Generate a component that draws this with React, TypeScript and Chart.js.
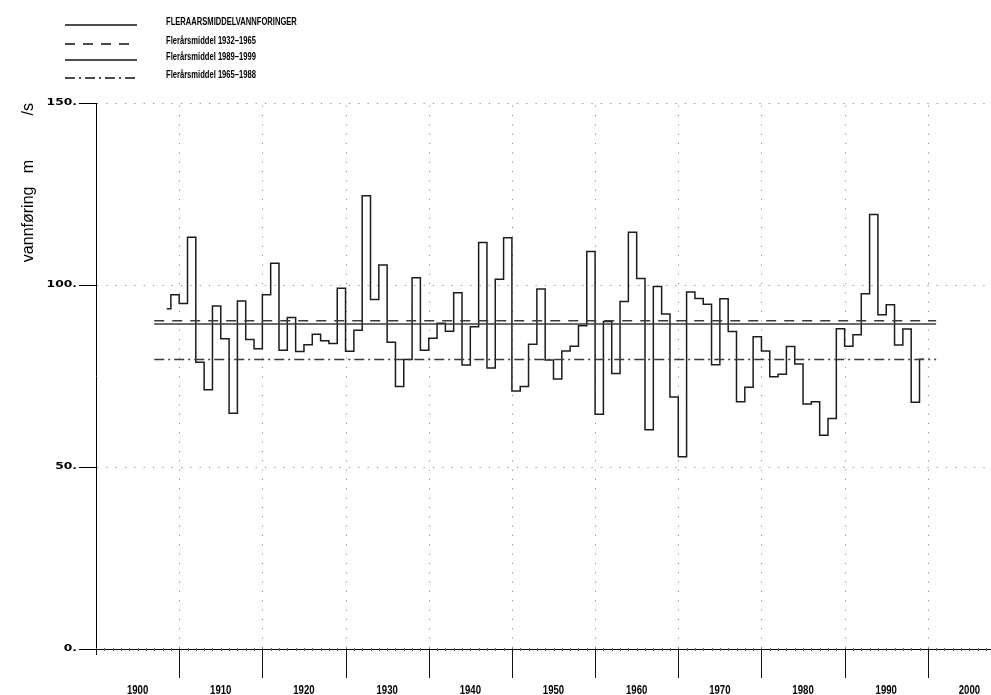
import React, { useEffect, useRef } from 'react';
import { Chart, registerables } from 'chart.js';

Chart.register(...registerables);

// ---------- data ----------
const SERIES_LABEL = 'FLERAARSMIDDELVANNFORINGER';
const START_YEAR = 1908;
const FLOW = [
  93.5, 97.3, 94.9, 113.1, 78.8, 71.2, 94.2, 85.2, 64.8, 95.6,
  85.0, 82.5, 97.3, 106.0, 82.1, 91.1, 81.7, 83.6, 86.5, 84.7,
  83.9, 99.1, 81.8, 87.6, 124.5, 96.0, 105.5, 84.3, 72.1, 79.5,
  102.0, 82.1, 85.4, 89.5, 87.3, 97.9, 78.0, 88.5, 111.7, 77.2,
  101.6, 113.0, 70.9, 72.1, 83.7, 98.9, 79.4, 74.2, 81.9, 83.2,
  88.8, 109.2, 64.5, 90.0, 75.7, 95.5, 114.5, 101.8, 60.2, 99.6,
  92.0, 69.2, 52.8, 98.1, 96.3, 94.7, 78.1, 96.2, 87.2, 67.9,
  71.9, 85.8, 81.9, 74.8, 75.5, 83.1, 78.3, 67.3, 67.9, 58.7,
  63.3, 88.0, 83.2, 86.3, 97.6, 119.4, 91.8, 94.6, 83.5, 87.9,
  67.8, 79.6,
];

const MEAN_LABELS = ['Flerårsmiddel 1932–1965', 'Flerårsmiddel 1989–1999', 'Flerårsmiddel 1965–1988'];
const MEAN_VALUES = [90.2, 89.3, 79.5];
const MEAN_FROM = 1907;
const MEAN_TO = 2001;

const DECADE_LABELS = ['1900', '1910', '1920', '1930', '1940', '1950', '1960', '1970', '1980', '1990', '2000'];
const X_MIN = 1900;
const X_MAX = 2010;
const Y_TICKS = [0, 50, 100, 150];
const Y_LABELS = ['0.', '50.', '100.', '150.'];
const Y_GRID = [50, 100, 150];
const Y_TITLE = 'vannføring   m          /s';

// ---------- styles ----------
const SANS = '"Liberation Sans", Arial, sans-serif';
const LINE_COLOR = '#1c1c1c';
const MEAN_COLOR = '#3a3a3a';
const DASHES: number[][] = [[10, 8], [], [10, 4, 2, 4]];

const decor = {
  id: 'decor',
  beforeDatasetsDraw(chart: any) {
    const { ctx, chartArea: a, scales } = chart;
    const x = scales.x;
    const y = scales.y;
    ctx.save();
    ctx.strokeStyle = '#8c8c8c';
    ctx.lineWidth = 1;
    ctx.setLineDash([1.2, 8.13]);
    for (const v of Y_GRID) {
      const py = Math.round(y.getPixelForValue(v)) + 0.5;
      ctx.beginPath();
      ctx.moveTo(a.left + 1, py);
      ctx.lineTo(a.right, py);
      ctx.stroke();
    }
    for (const l of DECADE_LABELS.slice(1)) {
      const px = Math.round(x.getPixelForValue(Number(l))) + 0.5;
      ctx.beginPath();
      ctx.moveTo(px, a.bottom - 1);
      ctx.lineTo(px, a.top);
      ctx.stroke();
    }
    ctx.restore();
  },
  afterDraw(chart: any) {
    const { ctx, chartArea: a, scales } = chart;
    const x = scales.x;
    const y = scales.y;
    ctx.save();
    ctx.setLineDash([]);
    // minor yearly ticks
    ctx.strokeStyle = '#666';
    ctx.lineWidth = 1;
    for (let yr = X_MIN; yr <= X_MAX; yr++) {
      const px = Math.round(x.getPixelForValue(yr)) + 0.5;
      ctx.beginPath();
      ctx.moveTo(px, a.bottom - 1);
      ctx.lineTo(px, a.bottom + 2);
      ctx.stroke();
    }
    // decade ticks
    ctx.strokeStyle = '#111';
    for (const l of DECADE_LABELS.slice(1)) {
      const px = Math.round(x.getPixelForValue(Number(l))) + 0.5;
      ctx.beginPath();
      ctx.moveTo(px, a.bottom);
      ctx.lineTo(px, a.bottom + 29);
      ctx.stroke();
    }
    // y axis extension below the x axis
    const lx = Math.round(a.left) + 0.5;
    ctx.beginPath();
    ctx.moveTo(lx, a.bottom);
    ctx.lineTo(lx, a.bottom + 6);
    ctx.stroke();

    // x labels (condensed bold), centred in each decade
    ctx.fillStyle = '#000';
    ctx.font = `bold 12px ${SANS}`;
    ctx.textAlign = 'center';
    ctx.textBaseline = 'alphabetic';
    x.ticks.forEach((t: any, i: number) => {
      const px = x.getPixelForValue(t.value);
      ctx.save();
      ctx.translate(px, a.bottom + 44.5);
      ctx.scale(0.8, 1);
      ctx.fillText(DECADE_LABELS[i], 0, 0);
      ctx.restore();
    });

    // y labels (wide, small)
    ctx.font = `bold 8.5px "DejaVu Sans", sans-serif`;
    ctx.textAlign = 'right';
    ctx.textBaseline = 'middle';
    y.ticks.forEach((t: any, i: number) => {
      const py = y.getPixelForValue(t.value);
      ctx.save();
      ctx.translate(a.left - 19, py);
      ctx.scale(1.45, 1);
      ctx.fillText(Y_LABELS[i], 0, 0);
      ctx.restore();
    });
    ctx.restore();
  },
};

export default function App() {
  const ref = useRef<HTMLCanvasElement | null>(null);

  useEffect(() => {
    if (!ref.current) return;
    const datasets: any[] = [
      ...MEAN_VALUES.map((v, i) => ({
        label: MEAN_LABELS[i],
        data: [
          { x: MEAN_FROM, y: v },
          { x: MEAN_TO, y: v },
        ],
        borderColor: MEAN_COLOR,
        borderWidth: 1.5,
        borderDash: DASHES[i],
        pointRadius: 0,
        fill: false,
      })),
      {
        label: SERIES_LABEL,
        data: FLOW.map((v, i) => ({ x: START_YEAR + i + 0.5, y: v })),
        stepped: 'middle',
        borderColor: LINE_COLOR,
        borderWidth: 1.5,
        pointRadius: 0,
        fill: false,
      },
    ];

    const chart = new Chart(ref.current, {
      type: 'line',
      data: { datasets },
      plugins: [decor],
      options: {
        animation: false,
        responsive: false,
        devicePixelRatio: 1,
        layout: { padding: { top: 103, right: 0, bottom: 0, left: 0 } },
        plugins: {
          legend: { display: false },
          tooltip: { enabled: false },
          title: { display: false },
        },
        scales: {
          x: {
            type: 'linear',
            min: X_MIN,
            max: X_MAX,
            afterFit: (s: any) => {
              s.height = 46;
            },
            afterBuildTicks: (s: any) => {
              s.ticks = DECADE_LABELS.map((l) => ({ value: Number(l) + 5 }));
            },
            ticks: { display: false, autoSkip: false, maxRotation: 0, minRotation: 0 },
            grid: { display: false, drawTicks: false },
            border: { display: true, color: '#000', width: 1 },
          },
          y: {
            type: 'linear',
            min: 0,
            max: 150,
            afterFit: (s: any) => {
              s.width = 96;
            },
            afterBuildTicks: (s: any) => {
              s.ticks = Y_TICKS.map((v) => ({ value: v }));
            },
            ticks: { display: false },
            grid: {
              display: true,
              drawOnChartArea: false,
              drawTicks: true,
              tickLength: 17,
              color: '#000',
              lineWidth: 1,
            },
            border: { display: true, color: '#000', width: 1 },
            title: {
              display: true,
              text: Y_TITLE,
              align: 'end',
              color: '#000',
              font: { family: SANS, size: 16 },
              padding: { top: 19, bottom: 0 },
            },
          },
        },
      } as any,
    });
    return () => chart.destroy();
  }, []);

  const legendRows = [
    { label: SERIES_LABEL, dash: [] as number[], lineY: 25, textY: 21 },
    { label: MEAN_LABELS[0], dash: DASHES[0], lineY: 43.5, textY: 39.5 },
    { label: MEAN_LABELS[1], dash: DASHES[1], lineY: 60, textY: 56 },
    { label: MEAN_LABELS[2], dash: DASHES[2], lineY: 78, textY: 74 },
  ];

  return (
    <div
      style={{
        position: 'fixed',
        left: 0,
        top: 0,
        width: 991,
        height: 695,
        overflow: 'hidden',
        background: '#fff',
      }}
    >
      <canvas
        ref={ref}
        width={1011}
        height={695}
        style={{ position: 'absolute', left: 0, top: 0, width: 1011, height: 695 }}
      />
      {legendRows.map((r, i) => (
        <React.Fragment key={i}>
          <svg width={74} height={6} style={{ position: 'absolute', left: 64, top: r.lineY - 3 }}>
            <line
              x1={1}
              y1={3}
              x2={73}
              y2={3}
              stroke="#111"
              strokeWidth={1.5}
              strokeDasharray={r.dash.length ? r.dash.join(' ') : undefined}
            />
          </svg>
          <span
            style={{
              position: 'absolute',
              left: 166,
              top: r.textY - 7,
              height: 14,
              lineHeight: '14px',
              fontFamily: SANS,
              fontWeight: 'bold',
              fontSize: 11,
              color: '#000',
              whiteSpace: 'nowrap',
              transform: 'scaleX(0.69)',
              transformOrigin: 'left center',
            }}
          >
            {r.label}
          </span>
        </React.Fragment>
      ))}
    </div>
  );
}
